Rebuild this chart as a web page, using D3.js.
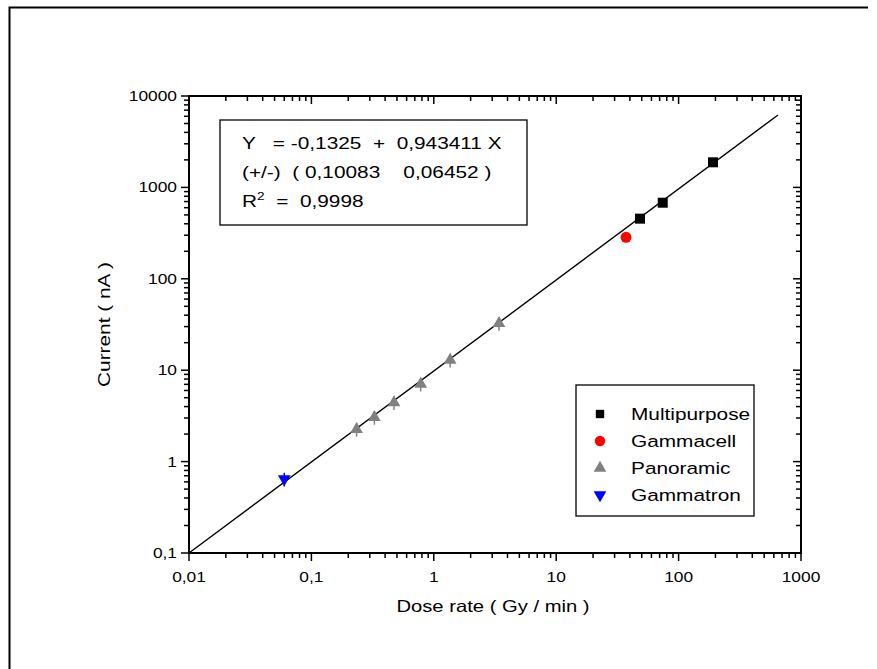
<!DOCTYPE html>
<html>
<head>
<meta charset="utf-8">
<script src="https://cdn.jsdelivr.net/npm/d3@7"></script>
<style>
  html, body { margin: 0; padding: 0; background: #fff; }
  svg { display: block; font-family: "Liberation Sans", Arial, sans-serif; }
</style>
</head>
<body>
<svg id="chart" width="877" height="669"></svg>
<script>
// ---- Data ----
const multipurposeX = [48.4, 74.2, 191];
const multipurposeY = [455, 680, 1882];
const gammacellX = [37.2];
const gammacellY = [284];
const panoramicX = [0.234, 0.327, 0.473, 0.782, 1.36, 3.41];
const panoramicY = [2.26, 3.05, 4.41, 7.06, 12.9, 32.6];
const gammatronX = [0.060];
const gammatronY = [0.645];
const errFrac = 0.17; // relative error bar size
const fitX = [0.01, 649];
const fitY = [0.1, 6200];
const xTickValues = [0.01, 0.1, 1, 10, 100, 1000];
const xTickLabels = ["0,01", "0,1", "1", "10", "100", "1000"];
const yTickValues = [0.1, 1, 10, 100, 1000, 10000];
const yTickLabels = ["0,1", "1", "10", "100", "1000", "10000"];
const legendNames = ["Multipurpose", "Gammacell", "Panoramic", "Gammatron"];
const fitLines = ["Y   = -0,1325  +  0,943411 X", "(+/-)  ( 0,10083    0,06452 )"];
const r2Value = "  =  0,9998";

// ---- Layout ----
const svg = d3.select("#chart");
const L = 189, R = 801, T = 96, B = 553;
const SX = 1.24; // wide glyph stretch
const x = d3.scaleLog().domain([0.01, 1000]).range([L, R]);
const y = d3.scaleLog().domain([0.1, 10000]).range([B, T]);

function stxt(px, py, str, size, anchor, rot) {
  return svg.append("text")
    .attr("transform", `translate(${px},${py})` + (rot ? ` rotate(${rot})` : "") + ` scale(${SX},1)`)
    .attr("text-anchor", anchor || "start").attr("font-size", size)
    .style("white-space", "pre").text(str);
}

// outer frame (left + top)
svg.append("path").attr("d", "M9.5,669 L9.5,7.5 L868,7.5")
  .attr("fill", "none").attr("stroke", "#000").attr("stroke-width", 2);

// minor ticks
function minors(domain) {
  const out = [];
  for (let e = Math.log10(domain[0]); e < Math.log10(domain[1]); e++) {
    for (let k = 2; k <= 9; k++) out.push(k * Math.pow(10, e));
  }
  return out;
}
const xMin = minors([0.01, 1000]);
const yMin = minors([0.1, 10000]);
const MAJ = 8, MIN = 5;

const g = svg.append("g");
function tickLines(vals, fn, len) {
  vals.forEach(v => {
    const [x1, y1, x2, y2] = fn(v, len);
    g.append("line").attr("x1", x1).attr("y1", y1).attr("x2", x2).attr("y2", y2)
      .attr("stroke", "#000").attr("stroke-width", 1.5);
  });
}
tickLines(xTickValues, (v, l) => [x(v), B, x(v), B + l], MAJ);
tickLines(xMin, (v, l) => [x(v), B, x(v), B + l], MIN);
tickLines(xTickValues, (v, l) => [x(v), T, x(v), T + l], MAJ);
tickLines(xMin, (v, l) => [x(v), T, x(v), T + l], MIN);
tickLines(yTickValues, (v, l) => [L, y(v), L - l, y(v)], MAJ);
tickLines(yMin, (v, l) => [L, y(v), L - l, y(v)], MIN);
tickLines(yTickValues, (v, l) => [R, y(v), R - l, y(v)], MAJ);
tickLines(yMin, (v, l) => [R, y(v), R - l, y(v)], MIN);

// plot frame
svg.append("rect").attr("x", L).attr("y", T).attr("width", R - L).attr("height", B - T)
  .attr("fill", "none").attr("stroke", "#000").attr("stroke-width", 2);

// tick labels
xTickValues.forEach((v, i) => stxt(x(v), B + 29, xTickLabels[i], 14, "middle"));
yTickValues.forEach((v, i) => stxt(L - 12, y(v) + 5, yTickLabels[i], 14, "end"));

// axis titles
stxt((L + R) / 2 - 2, 612, "Dose rate ( Gy / min )", 16.3, "middle");
stxt(110, (T + B) / 2, "Current ( nA )", 16.8, "middle", -90);

// fit line
const lineGen = d3.line().x(d => x(d[0])).y(d => y(d[1]));
svg.append("path").datum(d3.zip(fitX, fitY)).attr("d", lineGen)
  .attr("fill", "none").attr("stroke", "#000").attr("stroke-width", 1.4);

// symbols
const sq = d3.symbol().type(d3.symbolSquare).size(100);
const ci = d3.symbol().type(d3.symbolCircle).size(95);
const tri = d3.symbol().type(d3.symbolTriangle).size(70);

function errBars(xs, ys, color) {
  xs.forEach((xv, i) => {
    svg.append("line").attr("x1", x(xv)).attr("x2", x(xv))
      .attr("y1", y(ys[i] * (1 + errFrac))).attr("y2", y(ys[i] * (1 - errFrac)))
      .attr("stroke", color).attr("stroke-width", 1.5);
  });
}
errBars(panoramicX, panoramicY, "#808080");
errBars(gammatronX, gammatronY, "#0000ff");

function pts(xs, ys, sym, color, flip) {
  xs.forEach((xv, i) => {
    svg.append("path").attr("d", sym())
      .attr("transform", `translate(${x(xv)},${y(ys[i])})` + (flip ? " rotate(180)" : ""))
      .attr("fill", color);
  });
}
pts(multipurposeX, multipurposeY, sq, "#000");
pts(gammacellX, gammacellY, ci, "#ff0000");
pts(panoramicX, panoramicY, tri, "#808080");
pts(gammatronX, gammatronY, tri, "#0000ff", true);

// equation box
svg.append("rect").attr("x", 220).attr("y", 120).attr("width", 307).attr("height", 105)
  .attr("fill", "#fff").attr("stroke", "#000").attr("stroke-width", 1.3);
fitLines.forEach((t, i) => stxt(242, 149 + i * 29, t, 16.8));
const r2 = stxt(242, 207, "", 16.8);
r2.append("tspan").text("R");
r2.append("tspan").attr("dy", -7).attr("font-size", 11).text("2");
r2.append("tspan").attr("dy", 7).text(r2Value);

// legend
svg.append("rect").attr("x", 576).attr("y", 385).attr("width", 178).attr("height", 131)
  .attr("fill", "#fff").attr("stroke", "#000").attr("stroke-width", 1.3);
const legSyms = [[sq, "#000", false, 70], [ci, "#ff0000", false, 85], [tri, "#808080", false, 70], [tri, "#0000ff", true, 70]];
legendNames.forEach((n, i) => {
  const yy = 414 + i * 27;
  const [s, c, f, sz] = legSyms[i];
  svg.append("path").attr("d", s.size(sz)())
    .attr("transform", `translate(600,${yy})` + (f ? " rotate(180)" : ""))
    .attr("fill", c);
  stxt(631, yy + 6, n, 16.8);
});
</script>
</body>
</html>
